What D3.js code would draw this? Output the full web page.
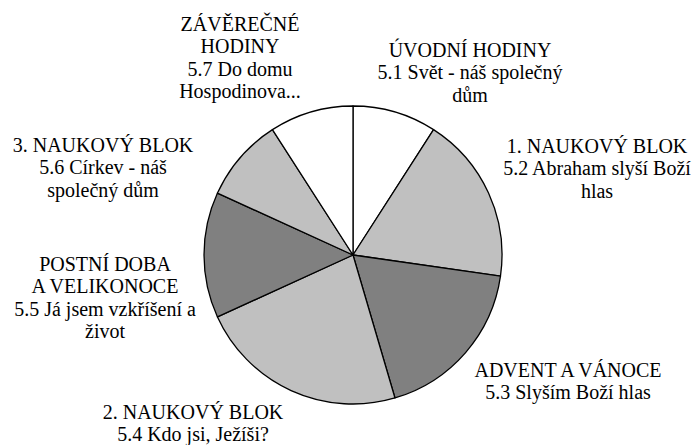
<!DOCTYPE html>
<html>
<head>
<meta charset="utf-8">
<script src="https://cdn.jsdelivr.net/npm/d3@7"></script>
<style>
  body { margin: 0; background: #fff; }
  text { font-family: 'Liberation Serif', 'DejaVu Serif', 'Tinos', 'Times New Roman', Times, serif; font-size: 20px; fill: #000; }
</style>
</head>
<body>
<svg id="chart" width="695" height="445"></svg>
<script>
// lesson counts per unit, clockwise from the top
var units = ["5.1", "5.2", "5.3", "5.4", "5.5", "5.6", "5.7"];
var lessons = [2, 4, 4, 5, 3, 2, 2];
var labelLines = [
  ["ÚVODNÍ HODINY", "5.1 Svět - náš společný", "dům"],
  ["1. NAUKOVÝ BLOK", "5.2 Abraham slyší Boží", "hlas"],
  ["ADVENT A VÁNOCE", "5.3 Slyším Boží hlas"],
  ["2. NAUKOVÝ BLOK", "5.4 Kdo jsi, Ježíši?"],
  ["POSTNÍ DOBA", "A VELIKONOCE", "5.5 Já jsem vzkříšení a", "život"],
  ["3. NAUKOVÝ BLOK", "5.6 Církev - náš", "společný dům"],
  ["ZÁVĚREČNÉ", "HODINY", "5.7 Do domu", "Hospodinova..."]
];

// layout (label anchors: center x, first baseline)
var labelPos = [[470, 57], [597, 153], [568, 377], [193, 419], [105, 271], [103, 152], [240, 31]];
var cx = 353, cy = 255, radius = 149, lineH = 22.3;

var svg = d3.select("#chart");

var color = d3.scaleOrdinal()
  .domain(units)
  .range(["#ffffff", "#c0c0c0", "#808080", "#c0c0c0", "#808080", "#c0c0c0", "#ffffff"]);

var pie = d3.pie().sort(null).value(function(d) { return d; });
var arc = d3.arc().innerRadius(0).outerRadius(radius);

var g = svg.append("g").attr("transform", "translate(" + cx + "," + cy + ")");

g.selectAll("path")
  .data(pie(lessons))
  .enter().append("path")
  .attr("d", arc)
  .attr("fill", function(d, i) { return color(units[i]); })
  .attr("stroke", "#000")
  .attr("stroke-width", 1.3)
  .attr("stroke-linejoin", "round");

var labels = svg.selectAll("text.lbl")
  .data(labelLines)
  .enter().append("text")
  .attr("class", "lbl")
  .attr("font-family", "Liberation Serif")
  .attr("text-anchor", "middle")
  .attr("transform", function(d, i) {
    return "translate(" + labelPos[i][0] + "," + labelPos[i][1] + ")";
  });

labels.selectAll("tspan")
  .data(function(d) { return d; })
  .enter().append("tspan")
  .attr("x", 0)
  .attr("y", function(d, i) { return i * lineH; })
  .text(function(d) { return d; });
</script>
</body>
</html>
